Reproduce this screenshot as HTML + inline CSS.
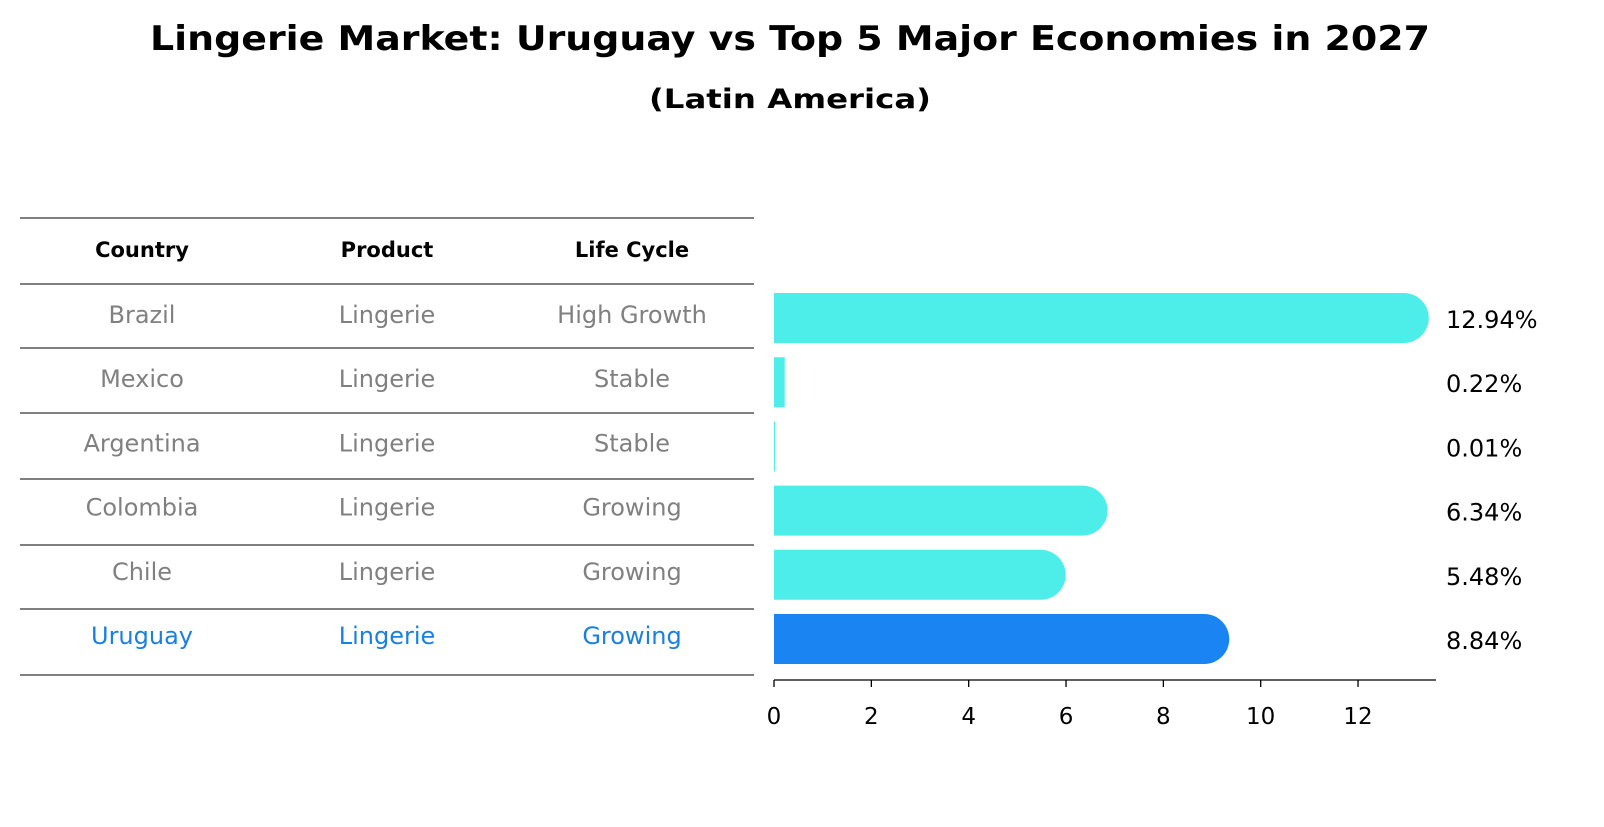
<!DOCTYPE html>
<html><head><meta charset="utf-8"><style>
body{margin:0;background:#fff;width:1604px;height:823px;overflow:hidden;font-family:"DejaVu Sans","Liberation Sans",sans-serif}
</style></head><body>
<svg width="1604" height="823" xmlns="http://www.w3.org/2000/svg" font-family="DejaVu Sans, Liberation Sans, sans-serif">
<text x="790" y="50" text-anchor="middle" font-size="34" font-weight="bold" textLength="1280" lengthAdjust="spacingAndGlyphs">Lingerie Market: Uruguay vs Top 5 Major Economies in 2027</text>
<text x="790" y="108" text-anchor="middle" font-size="27" font-weight="bold" textLength="282" lengthAdjust="spacingAndGlyphs">(Latin America)</text>
<g id="table"></g>
<g id="bars"></g>
</svg>
<script>
const countries=["Brazil","Mexico","Argentina","Colombia","Chile","Uruguay"];
const products=["Lingerie","Lingerie","Lingerie","Lingerie","Lingerie","Lingerie"];
const lifecycles=["High Growth","Stable","Stable","Growing","Growing","Growing"];
const values=[12.94,0.22,0.01,6.34,5.48,8.84];
const ticks=[0,2,4,6,8,10,12];
const NS="http://www.w3.org/2000/svg";
function mk(tag,attrs,parent){const e=document.createElementNS(NS,tag);for(const k in attrs)e.setAttribute(k,attrs[k]);parent.appendChild(e);return e;}
const tbl=document.getElementById('table'),bars=document.getElementById('bars');
const lineYs=[218,284,348,413,479,545,609,675];
lineYs.forEach(y=>{const l=mk('line',{x1:20,x2:754,y1:y,y2:y,stroke:'#000','stroke-width':1},tbl);

});
const colX=[142,387,632];
["Country","Product","Life Cycle"].forEach((h,i)=>{const t=mk('text',{x:colX[i],y:257,'text-anchor':'middle','font-size':21,'font-weight':'bold'},tbl);t.textContent=h;

});
const x0=774,pxPer=48.67;
function xs(v){return x0+v*pxPer;}
function yc(i){return 318+i*64.2;}
countries.forEach((c,i)=>{
  const col=i===countries.length-1?'#1a80e0':'#808080';
  [c,products[i],lifecycles[i]].forEach((s,j)=>{const t=mk('text',{x:colX[j],y:yc(i)+5,'text-anchor':'middle','font-size':24,fill:col},tbl);t.textContent=s;
  
  });
  const fill=i===countries.length-1?'#1a85f2':'#4deeea';
  const w=xs(values[i])-x0,r=25,y=yc(i)-r;
  let d;
  if(w>r){d=`M${x0},${y}H${x0+w}A${r},${r} 0 0 1 ${x0+w},${y+2*r}H${x0}Z`;}
  else{d=`M${x0},${y}H${x0+Math.max(w,1)}V${y+2*r}H${x0}Z`;}
  const p=mk('path',{d:d,fill:fill},bars);
  
  
  const t=mk('text',{x:1446,y:yc(i)+10,'font-size':24},bars);t.textContent=values[i].toFixed(2)+'%';
  
  
});
const ax=mk('line',{x1:x0,x2:1436,y1:680,y2:680,stroke:'#000','stroke-width':1.3},bars);


ticks.forEach(v=>{const l=mk('line',{x1:xs(v),x2:xs(v),y1:680,y2:687,stroke:'#000','stroke-width':1.3},bars);


const t=mk('text',{x:xs(v),y:724,'text-anchor':'middle','font-size':23},bars);t.textContent=v;

});
</script>
</body></html>
